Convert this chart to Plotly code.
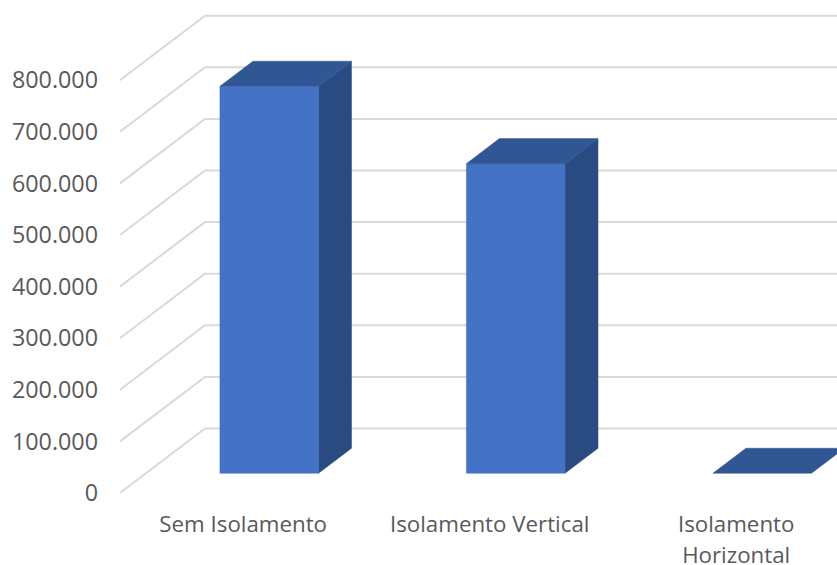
import plotly.graph_objects as go

categories = ["Sem Isolamento", "Isolamento Vertical", "Isolamento<br>Horizontal"]
values = [750000, 600000, 0]
y_ticks = [0, 100000, 200000, 300000, 400000, 500000, 600000, 700000, 800000]
y_labels = ["0", "100.000", "200.000", "300.000", "400.000", "500.000", "600.000", "700.000", "800.000"]

W, H = 837, 565
FONT = "Open Sans"
TEXT = "#595959"
GRID = "#D9D9D9"
FRONT, TOP, SIDE = "#4472C4", "#315694", "#2A4A82"

# Oblique projection: depth 0 = front of the floor, depth 1 = back wall
DX, DY = 0.345, 125000
BAR_W = 0.4
D0, D1 = 0.306, 0.694


def proj(x, v, d):
    return x + d * DX, v + d * DY


X_MIN, X_MAX = -0.016, 2.909
Y_MIN, Y_MAX = -7750, 936000

fig = go.Figure()


def poly(points, color):
    xs, ys = zip(*points)
    fig.add_trace(go.Scatter(x=list(xs) + [xs[0]], y=list(ys) + [ys[0]], mode="lines", fill="toself",
                             fillcolor=color, line=dict(color=color, width=0.5),
                             hoverinfo="skip", showlegend=False))


gx, gy = [], []
for v in y_ticks:
    a = proj(0, v, 0)
    b = proj(0, v, 1)
    gx += [a[0], b[0], X_MAX, None]
    gy += [a[1], b[1], b[1], None]
fig.add_trace(go.Scatter(x=gx, y=gy, mode="lines", line=dict(color=GRID, width=2),
                         hoverinfo="skip", showlegend=False))

for i, v in enumerate(values):
    x0 = i + 0.5 - BAR_W / 2
    x1 = i + 0.5 + BAR_W / 2
    if v > 0:
        poly([proj(x1, 0, D0), proj(x1, 0, D1), proj(x1, v, D1), proj(x1, v, D0)], SIDE)
        poly([proj(x0, 0, D0), proj(x1, 0, D0), proj(x1, v, D0), proj(x0, v, D0)], FRONT)
    poly([proj(x0, v, D0), proj(x1, v, D0), proj(x1, v, D1), proj(x0, v, D1)], TOP)

fig.update_layout(
    width=W, height=H, autosize=False,
    margin=dict(l=116, r=0, t=10, b=68, autoexpand=False),
    paper_bgcolor="white", plot_bgcolor="white",
    showlegend=False,
    xaxis=dict(range=[X_MIN, X_MAX], tickmode="array", tickvals=[i + 0.5 for i in range(len(categories))],
               ticktext=['<span style="font-size:22.3px">' + c.replace("<br>", '</span><br><span style="font-size:22.3px">') + "</span>"
                         for c in categories],
               tickfont=dict(family=FONT, size=24, color=TEXT), showgrid=False, zeroline=False,
               showline=False, ticks="", ticklabelstandoff=10, tickangle=0, automargin=False),
    yaxis=dict(range=[Y_MIN, Y_MAX], tickmode="array", tickvals=y_ticks, ticktext=y_labels,
               tickfont=dict(family=FONT, size=23.3, color=TEXT), showgrid=False, zeroline=False,
               showline=False, ticks="", ticklabelstandoff=17, automargin=False),
)

fig.write_html("out.html", config={"displayModeBar": False},
               post_script="document.body.style.margin='0';document.documentElement.style.overflow='hidden';")
